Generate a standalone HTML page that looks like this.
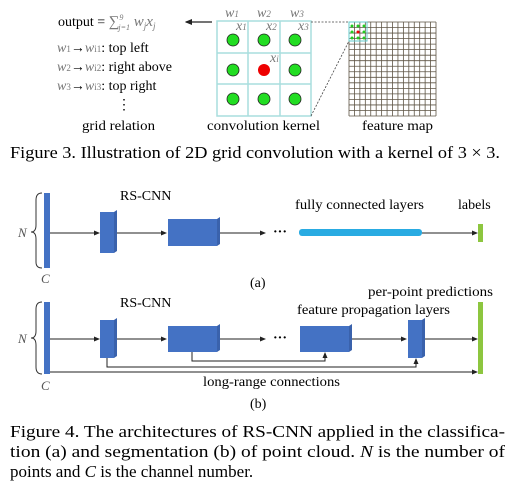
<!DOCTYPE html>
<html><head><meta charset="utf-8"><style>
html,body{margin:0;padding:0;background:#fff}
svg{display:block;font-family:"Liberation Serif",serif}
</style></head><body>
<svg width="517" height="499" viewBox="0 0 517 499" xmlns="http://www.w3.org/2000/svg">
<defs><marker id="ah" markerWidth="6" markerHeight="6" refX="5" refY="3" orient="auto"><path d="M0,0.5 L6,3 L0,5.5z" fill="#222"/></marker></defs>
<!-- Figure 3 -->
<g font-size="14">
<text x="58" y="26">output = <tspan fill="#777" font-style="italic" font-size="15">∑<tspan font-size="8" dy="-6">9</tspan><tspan font-size="8" dx="-5" dy="10">j=1</tspan><tspan dy="-4"> w</tspan><tspan font-size="9" dy="3">j</tspan><tspan dy="-3">x</tspan><tspan font-size="9" dy="3">j</tspan></tspan></text>
<line x1="212" y1="22" x2="186" y2="22" stroke="#222" stroke-width="1.2" marker-end="url(#ah)"/>
<text x="57" y="52"><tspan fill="#777" font-style="italic">w</tspan><tspan fill="#777" font-size="9">1</tspan>→<tspan fill="#777" font-style="italic">w</tspan><tspan fill="#777" font-size="9">i1</tspan>: top left</text>
<text x="57" y="71"><tspan fill="#777" font-style="italic">w</tspan><tspan fill="#777" font-size="9">2</tspan>→<tspan fill="#777" font-style="italic">w</tspan><tspan fill="#777" font-size="9">i2</tspan>: right above</text>
<text x="57" y="90"><tspan fill="#777" font-style="italic">w</tspan><tspan fill="#777" font-size="9">3</tspan>→<tspan fill="#777" font-style="italic">w</tspan><tspan fill="#777" font-size="9">i3</tspan>: top right</text>
<text x="117" y="109">⋮</text>
<text x="82" y="130" textLength="73" lengthAdjust="spacingAndGlyphs">grid relation</text>
</g>
<g>
<g stroke="#a8dede" stroke-width="1.5" fill="none">
<rect x="217" y="21" width="94" height="95"/>
<line x1="248" y1="21" x2="248" y2="116"/><line x1="280" y1="21" x2="280" y2="116"/>
<line x1="217" y1="53" x2="311" y2="53"/><line x1="217" y1="84" x2="311" y2="84"/>
</g>
<g stroke="#222" stroke-width="0.8" fill="#22dd22">
<circle cx="233" cy="40" r="6"/><circle cx="264" cy="40" r="6"/><circle cx="295" cy="40" r="6"/>
<circle cx="233" cy="70" r="6"/><circle cx="264" cy="70" r="6" fill="#ee0000" stroke="none"/><circle cx="295" cy="70" r="6"/>
<circle cx="233" cy="99" r="6"/><circle cx="264" cy="99" r="6"/><circle cx="295" cy="99" r="6"/>
</g>
<g fill="#777" font-style="italic" font-size="14">
<text x="225" y="17">w<tspan font-size="9">1</tspan></text><text x="257" y="17">w<tspan font-size="9">2</tspan></text><text x="290" y="17">w<tspan font-size="9">3</tspan></text>
<text x="236" y="30">x<tspan font-size="9">1</tspan></text><text x="266" y="30">x<tspan font-size="9">2</tspan></text><text x="298" y="30">x<tspan font-size="9">3</tspan></text>
<text x="270" y="62">x<tspan font-size="9">i</tspan></text>
</g>
<text x="207" y="130" font-size="14" textLength="113" lengthAdjust="spacingAndGlyphs">convolution kernel</text>
</g>
<g>
<line x1="311" y1="22" x2="349" y2="22" stroke="#444" stroke-dasharray="2,1.5" stroke-width="0.8"/>
<line x1="311" y1="116" x2="349" y2="41" stroke="#444" stroke-dasharray="2,1.5" stroke-width="0.8"/>
<g id="fm" stroke="#5e5444" stroke-width="0.8"></g>
<rect x="349" y="22" width="18" height="19" fill="none" stroke="#6cc" stroke-width="1"/>
<g fill="#22cc22"><circle cx="352" cy="26" r="1.5"/><circle cx="358" cy="26" r="1.5"/><circle cx="364" cy="26" r="1.5"/><circle cx="352" cy="32" r="1.5"/><circle cx="364" cy="32" r="1.5"/><circle cx="352" cy="38" r="1.5"/><circle cx="358" cy="38" r="1.5"/><circle cx="364" cy="38" r="1.5"/></g>
<circle cx="358" cy="32" r="1.5" fill="#e00"/>
<text x="362" y="130" font-size="14" textLength="71" lengthAdjust="spacingAndGlyphs">feature map</text>
</g>
<text x="10" y="158" font-size="17" textLength="490" lengthAdjust="spacingAndGlyphs">Figure 3. Illustration of 2D grid convolution with a kernel of 3 × 3.</text>

<!-- Figure 4a -->
<g>
<path d="M42,193 Q36,193 36,200 L36,225 Q36,232 31,232 Q36,232 36,239 L36,262 Q36,268 42,268" fill="none" stroke="#333" stroke-width="1"/>
<text x="18" y="237" font-size="13" font-style="italic" fill="#555">N</text>
<text x="41" y="283" font-size="13" font-style="italic" fill="#555">C</text>
<rect x="44" y="193" width="6" height="75" fill="#4472c4"/>
<g stroke="#222" stroke-width="1" marker-end="url(#ah)">
<line x1="50" y1="233" x2="99" y2="233"/><line x1="116" y1="233" x2="166" y2="233"/><line x1="219" y1="233" x2="265" y2="233"/><line x1="422" y1="233" x2="477" y2="233"/>
</g>
<text x="273" y="236" font-size="14" font-weight="bold">···</text>
<rect x="100" y="212" width="14" height="41" fill="#4472c4"/><polygon points="114,212 117,210 117,251 114,253" fill="#3a62ac"/>
<rect x="168" y="219" width="49" height="27" fill="#4472c4"/><polygon points="217,219 220,217 220,244 217,246" fill="#3a62ac"/>
<rect x="299" y="229" width="123" height="7" rx="3" fill="#29abe2"/>
<rect x="478" y="224" width="5" height="18" fill="#8dc63f"/>
<text x="120" y="200" font-size="14">RS-CNN</text>
<text x="295" y="209" font-size="14" textLength="129" lengthAdjust="spacingAndGlyphs">fully connected layers</text>
<text x="458" y="209" font-size="14">labels</text>
<text x="250" y="287" font-size="14">(a)</text>
</g>
<!-- Figure 4b -->
<g>
<path d="M42,302 Q36,302 36,309 L36,331 Q36,338 31,338 Q36,338 36,345 L36,367 Q36,374 42,374" fill="none" stroke="#333" stroke-width="1"/>
<text x="18" y="343" font-size="13" font-style="italic" fill="#555">N</text>
<text x="41" y="390" font-size="13" font-style="italic" fill="#555">C</text>
<rect x="44" y="302" width="6" height="72" fill="#4472c4"/>
<g stroke="#222" stroke-width="1" fill="none" marker-end="url(#ah)">
<line x1="50" y1="339" x2="99" y2="339"/><line x1="116" y1="339" x2="166" y2="339"/><line x1="219" y1="339" x2="265" y2="339"/><line x1="351" y1="339" x2="406" y2="339"/><line x1="425" y1="339" x2="477" y2="339"/>
<polyline points="192,352 192,361 325,361 325,353"/>
<polyline points="107,358 107,367 416,367 416,359"/>
<line x1="50" y1="372" x2="477" y2="372"/>
</g>
<text x="273" y="342" font-size="14" font-weight="bold">···</text>
<rect x="100" y="320" width="14" height="38" fill="#4472c4"/><polygon points="114,320 117,318 117,356 114,358" fill="#3a62ac"/>
<rect x="168" y="326" width="49" height="26" fill="#4472c4"/><polygon points="217,326 220,324 220,350 217,352" fill="#3a62ac"/>
<rect x="300" y="326" width="49" height="26" fill="#4472c4"/><polygon points="349,326 352,324 352,350 349,352" fill="#3a62ac"/>
<rect x="408" y="320" width="14" height="38" fill="#4472c4"/><polygon points="422,320 425,318 425,356 422,358" fill="#3a62ac"/>
<rect x="478" y="302" width="5" height="72" fill="#8dc63f"/>
<text x="120" y="307" font-size="14">RS-CNN</text>
<text x="368" y="296" font-size="14" textLength="125" lengthAdjust="spacingAndGlyphs">per-point predictions</text>
<text x="297" y="314" font-size="14" textLength="153" lengthAdjust="spacingAndGlyphs">feature propagation layers</text>
<text x="203" y="386" font-size="14" textLength="137" lengthAdjust="spacingAndGlyphs">long-range connections</text>
<text x="250" y="408" font-size="14">(b)</text>
</g>
<g font-size="17">
<text x="10" y="437" textLength="495" lengthAdjust="spacingAndGlyphs">Figure 4. The architectures of RS-CNN applied in the classifica-</text>
<text x="10" y="457" textLength="495" lengthAdjust="spacingAndGlyphs">tion (a) and segmentation (b) of point cloud.  <tspan font-style="italic">N</tspan> is the number of</text>
<text x="10" y="477">points and <tspan font-style="italic">C</tspan> is the channel number.</text>
</g>
</svg>
<script>
const fmCols = 16, fmRows = 17;
const g = document.getElementById('fm');
const x0=349,y0=22,x1=436,y1=116;
for(let i=0;i<=fmCols;i++){const x=x0+(x1-x0)*i/fmCols;const l=document.createElementNS('http://www.w3.org/2000/svg','line');


l.setAttribute('x1',x);l.setAttribute('x2',x);l.setAttribute('y1',y0);l.setAttribute('y2',y1);g.appendChild(l);}
for(let j=0;j<=fmRows;j++){const y=y0+(y1-y0)*j/fmRows;const l=document.createElementNS('http://www.w3.org/2000/svg','line');


l.setAttribute('x1',x0);l.setAttribute('x2',x1);l.setAttribute('y1',y);l.setAttribute('y2',y);g.appendChild(l);}
</script>
</body></html>
